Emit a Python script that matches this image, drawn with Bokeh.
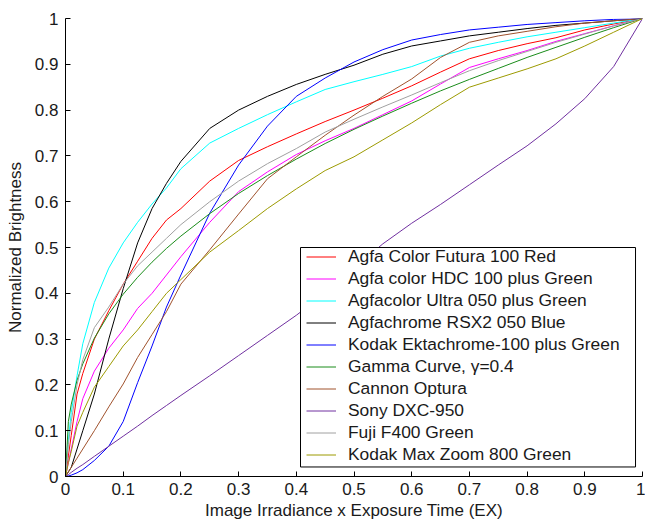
from bokeh.plotting import figure
from bokeh.models import Range1d, FixedTicker, Legend, LegendItem, BoxAnnotation
from bokeh.embed import file_html
from bokeh.resources import INLINE

# ---- data ----
X = [0, 0.005, 0.01, 0.02, 0.03, 0.05, 0.075, 0.1, 0.125, 0.15, 0.175, 0.2,
     0.25, 0.3, 0.35, 0.4, 0.45, 0.5, 0.55, 0.6, 0.65, 0.7, 0.75, 0.8, 0.85,
     0.9, 0.95, 1.0]

agfa_futura_red = [0, 0.045, 0.09, 0.18, 0.225, 0.30, 0.362, 0.42, 0.47, 0.52, 0.56, 0.585,
                   0.645, 0.69, 0.72, 0.748, 0.775, 0.80, 0.826, 0.853, 0.883, 0.912, 0.93, 0.945, 0.958,
                   0.975, 0.988, 1.0]
agfa_hdc_green = [0, 0.03, 0.06, 0.12, 0.17, 0.23, 0.28, 0.32, 0.367, 0.40, 0.44, 0.48,
                  0.555, 0.622, 0.665, 0.703, 0.733, 0.76, 0.79, 0.82, 0.857, 0.893, 0.912, 0.93, 0.95,
                  0.967, 0.984, 1.0]
agfa_ultra_green = [0, 0.08, 0.14, 0.22, 0.29, 0.38, 0.455, 0.51, 0.555, 0.595, 0.63, 0.672,
                    0.728, 0.76, 0.79, 0.818, 0.845, 0.862, 0.878, 0.895, 0.918, 0.935, 0.948, 0.96, 0.97,
                    0.98, 0.99, 1.0]
agfachrome_blue = [0, 0.01, 0.02, 0.06, 0.10, 0.18, 0.30, 0.41, 0.51, 0.585, 0.64, 0.688,
                   0.76, 0.80, 0.83, 0.856, 0.878, 0.898, 0.922, 0.94, 0.951, 0.962, 0.97, 0.978, 0.985,
                   0.99, 0.995, 1.0]
kodak_ekta_green = [0, 0.001, 0.003, 0.008, 0.015, 0.035, 0.066, 0.12, 0.205, 0.285, 0.37, 0.44,
                    0.575, 0.68, 0.765, 0.83, 0.87, 0.905, 0.932, 0.953, 0.965, 0.975, 0.981, 0.987, 0.991,
                    0.995, 0.998, 1.0]
gamma_curve = [0, 0.12, 0.158, 0.21, 0.246, 0.302, 0.355, 0.398, 0.435, 0.468, 0.498, 0.525,
               0.574, 0.618, 0.657, 0.693, 0.727, 0.758, 0.787, 0.815, 0.842, 0.867, 0.891, 0.915, 0.937,
               0.959, 0.98, 1.0]
cannon_optura = [0, 0.01, 0.02, 0.04, 0.06, 0.10, 0.152, 0.202, 0.26, 0.31, 0.36, 0.42,
                 0.495, 0.573, 0.65, 0.698, 0.745, 0.789, 0.83, 0.868, 0.915, 0.948, 0.962, 0.972, 0.982,
                 0.99, 0.995, 1.0]
sony_dxc950 = [0, 0.004, 0.009, 0.018, 0.026, 0.044, 0.066, 0.088, 0.11, 0.133, 0.155, 0.177,
               0.22, 0.264, 0.308, 0.352, 0.40, 0.455, 0.508, 0.553, 0.594, 0.637, 0.68, 0.722, 0.77,
               0.825, 0.895, 1.0]
fuji_f400_green = [0, 0.07, 0.12, 0.20, 0.255, 0.325, 0.37, 0.42, 0.46, 0.49, 0.52, 0.55,
                   0.60, 0.645, 0.683, 0.716, 0.752, 0.78, 0.807, 0.833, 0.86, 0.886, 0.908, 0.928, 0.948,
                   0.966, 0.984, 1.0]
kodak_maxzoom_green = [0, 0.03, 0.055, 0.11, 0.14, 0.195, 0.24, 0.285, 0.32, 0.36, 0.40, 0.43,
                       0.49, 0.537, 0.585, 0.628, 0.668, 0.698, 0.735, 0.772, 0.812, 0.85, 0.87, 0.89, 0.912,
                       0.94, 0.97, 1.0]

LABELS = ["Agfa Color Futura 100 Red", "Agfa color HDC 100 plus Green",
          "Agfacolor Ultra 050 plus Green", "Agfachrome RSX2 050 Blue",
          "Kodak Ektachrome-100 plus Green", "Gamma Curve, \u03b3=0.4",
          "Cannon Optura", "Sony DXC-950", "Fuji F400 Green",
          "Kodak Max Zoom 800 Green"]
SERIES = [agfa_futura_red, agfa_hdc_green, agfa_ultra_green, agfachrome_blue,
          kodak_ekta_green, gamma_curve, cannon_optura, sony_dxc950,
          fuji_f400_green, kodak_maxzoom_green]
COLORS = ["#ff0000", "#ff00ff", "#00ffff", "#000000", "#0000ff", "#1a8c1a",
          "#a0522d", "#7030a0", "#a0a0a0", "#9c9a00"]

TICKS = [0, 0.1, 0.2, 0.3, 0.4, 0.5, 0.6, 0.7, 0.8, 0.9, 1]
TICK_LABELS = ["0", "0.1", "0.2", "0.3", "0.4", "0.5", "0.6", "0.7", "0.8", "0.9", "1"]

FONT = "Liberation Sans"
TXT = "#1a1a1a"

p = figure(width=645, height=523, x_range=Range1d(0, 1), y_range=Range1d(0, 1),
           output_backend="svg", toolbar_location=None,
           min_border_left=65, min_border_right=3, min_border_top=18, min_border_bottom=47)
p.outline_line_color = None
p.grid.visible = False
p.background_fill_color = "white"
p.border_fill_color = "white"

overrides = dict(zip(TICKS, TICK_LABELS))
for ax in (p.xaxis[0], p.yaxis[0]):
    ax.ticker = FixedTicker(ticks=TICKS)
    ax.major_label_overrides = overrides
    ax.major_tick_in = 5
    ax.major_tick_out = 0
    ax.minor_tick_in = 0
    ax.minor_tick_out = 0
    ax.axis_line_color = "black"
    ax.major_tick_line_color = "black"
    ax.major_label_text_font = FONT
    ax.major_label_text_font_size = "17px"
    ax.major_label_text_color = TXT
    ax.axis_label_text_font = FONT
    ax.axis_label_text_font_size = "17px"
    ax.axis_label_text_font_style = "normal"
    ax.axis_label_text_color = TXT

p.xaxis.axis_label = "Image Irradiance x Exposure Time (EX)"
p.yaxis.axis_label = "Normalized Brightness"
p.xaxis.major_label_standoff = 6
p.xaxis.axis_label_standoff = 3
p.yaxis.major_label_standoff = 7
p.yaxis.axis_label_standoff = 7

items = []
for lab, ys, col in zip(LABELS, SERIES, COLORS):
    r = p.line(X, ys, line_color=col, line_width=1)
    items.append(LegendItem(label=lab, renderers=[r]))

# legend frame (white box with black border), drawn above the curves
legend_box = BoxAnnotation(left=0.4073, right=0.9879, bottom=0.0208, top=0.5,
                           fill_color="white", fill_alpha=1,
                           line_color="black", line_width=1, line_alpha=1,
                           level="overlay")
p.add_layout(legend_box)

legend = Legend(items=items, location=(241, 11), level="overlay")
legend.border_line_color = None
legend.background_fill_alpha = 0
legend.label_text_font = FONT
legend.label_text_font_size = "17.4px"
legend.label_text_color = TXT
legend.glyph_width = 30
legend.glyph_height = 21
legend.label_height = 21
legend.spacing = 1
legend.padding = 9
legend.label_standoff = 12
legend.margin = 0
p.add_layout(legend)

open("out.html", "w").write(file_html(p, INLINE))
